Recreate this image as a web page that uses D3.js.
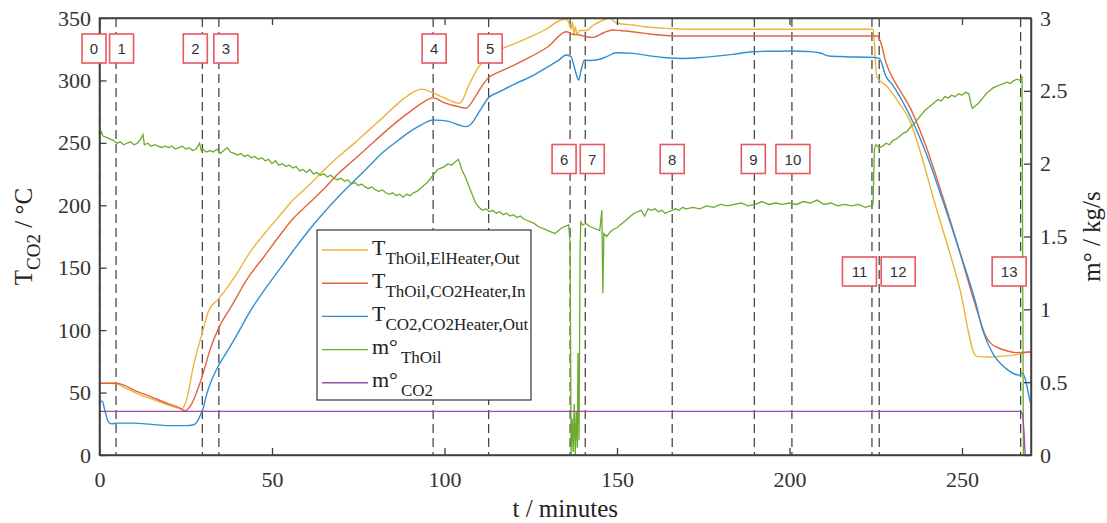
<!DOCTYPE html>
<html lang="en">
<head>
    <meta charset="UTF-8">
    <title>Heater start-up and shut-down: temperatures and mass flows</title>
    <script src="https://d3js.org/d3.v7.min.js"></script>
    <style>
        body { margin: 0; background: #fff; }
        .serif { font-family: "Liberation Serif", "Times New Roman", Times, "DejaVu Serif", serif; }
        .sans { font-family: "Liberation Sans", Arial, "DejaVu Sans", sans-serif; }
    </style>
</head>
<body>
    <svg width="1107" height="523"></svg>
    <script>
        // ---- data ----
        // [t (min), T (degC)]
        const tOilElHeaterOut = [
            [0, 57.5], [3, 57.5], [5, 57], [8, 53], [12, 48], [16, 44], [20, 40], [23.9, 37], [25.2, 44], [27.2, 71],
            [30, 100], [31.7, 116], [34.5, 125], [37, 134], [40, 146], [43.3, 161], [48, 178], [52, 191], [56, 204],
            [60.7, 216], [65, 228], [69.3, 239], [74, 250], [78, 260], [82, 270], [86.7, 282], [90, 289], [93.5, 293],
            [96.7, 290], [100, 286], [104.4, 281.7], [107.3, 297.7], [110.2, 312], [113.1, 319], [116.9, 325.7],
            [120, 329], [125, 335], [130, 342], [133.4, 348], [135.3, 349], [136.2, 345], [136.7, 341], [137.1, 347],
            [137.5, 336], [137.9, 343], [138.4, 337], [139.2, 340], [141.1, 340], [143, 344], [145, 347], [147.8, 350],
            [149.8, 346], [152, 345], [154.5, 344.4], [158, 343], [164.3, 341.7], [170, 341], [200, 341], [224.2, 341],
            [225.3, 303], [226.5, 299], [228, 296], [231, 285], [234.8, 268], [242.4, 199], [249.2, 135], [254.2, 79],
            [258, 78.5], [261, 79], [265, 80], [269.8, 83]
        ];
        const tOilCO2HeaterIn = [
            [0, 57.5], [4.8, 57.5], [6, 57], [10, 52], [15, 46.5], [20, 41], [23, 38], [24.8, 35.5], [26.5, 40],
            [28.8, 55], [30.1, 66], [32, 84], [34.6, 102], [38, 118], [43.3, 143], [48, 160], [52, 175], [56, 189],
            [60.7, 201.6], [65, 213], [69.3, 225.6], [74, 237], [78, 247], [82, 257], [86.7, 268], [90, 275], [93, 281],
            [96.7, 286], [100, 282], [104, 279], [106.3, 277.7], [107.5, 281], [109.2, 288.3], [112.6, 301.7], [116, 307],
            [120, 312], [125, 319], [130, 327], [135.3, 339], [137, 337], [139.2, 336.4], [141.1, 335], [143, 334.5],
            [146, 338], [148.8, 340.4], [151, 340], [154.5, 339], [160, 337], [164.3, 336], [170, 335.6], [225.5, 335.6],
            [226.5, 330], [228, 314], [229.9, 302], [232, 292], [234.8, 279], [239.6, 247], [244.4, 207], [249.2, 164],
            [254, 119], [256.9, 95], [258.5, 89], [260.8, 85.5], [263, 83.5], [265.6, 82], [269.8, 82.5]
        ];
        const tCO2HeaterOut = [
            [0, 42], [0.8, 43], [1.6, 35], [2.5, 27], [3.5, 25], [5, 25.5], [10, 25.5], [15, 24.5], [20, 23.5],
            [25, 23.5], [27, 24], [28.3, 26.5], [29.1, 31], [30, 37], [31, 48], [32.5, 60], [34.4, 71], [37, 83],
            [40, 97], [43.3, 113.5], [47, 129], [52, 148], [56, 163], [60.7, 180], [65, 194], [69.3, 207], [74, 220],
            [78, 231], [82, 242], [86.7, 252.3], [90, 259], [93, 264], [96.7, 268.3], [99, 268], [101.5, 267],
            [104, 264.5], [106.3, 263], [108, 266], [109.2, 271], [111, 279], [112.6, 285.7], [116, 291], [120.8, 297.7],
            [125, 303], [130, 311], [133, 316], [135.3, 320.4], [136.7, 319], [137.5, 312], [138.2, 305], [138.9, 300.3],
            [139.5, 307], [140.6, 316.4], [142, 316], [145, 317], [147, 319], [149.8, 322.2], [154.5, 321.7],
            [160, 319.5], [164.3, 318.2], [169, 317.6], [175, 318.5], [183.5, 320.9], [189.3, 323], [195, 323.4],
            [200.9, 323.6], [205, 323.2], [208.7, 322.2], [211.5, 319.6], [216, 319], [224.1, 318.5], [226, 317.7],
            [228, 303], [229.9, 296.3], [234.8, 272.3], [239.6, 241.6], [244.4, 204], [249.2, 164], [254, 121.5],
            [256, 100], [258.9, 81.4], [262.7, 69.4], [266.6, 64], [267.6, 65.4], [268.2, 62], [269.5, 46], [269.8, 42]
        ];
        // [t (min), mass flow (kg/s)]
        const mThOil = [
            [0, 2.20], [0.5, 2.22], [1, 2.19], [2, 2.18], [3, 2.17], [4, 2.16], [5, 2.14], [6, 2.15], [7, 2.13], [8, 2.14],
            [9, 2.15], [10, 2.13], [11, 2.14], [12, 2.17], [12.6, 2.20], [13, 2.13], [14, 2.14], [15, 2.12], [16, 2.13],
            [17, 2.12], [18, 2.11], [19, 2.12], [20, 2.11], [21, 2.12], [22, 2.10], [23, 2.11], [24, 2.12], [25, 2.10],
            [26, 2.11], [27, 2.09], [28, 2.10], [29, 2.14], [29.5, 2.09], [30, 2.10], [31, 2.08], [32, 2.09], [33, 2.08],
            [34, 2.10], [35, 2.07], [36, 2.09], [37, 2.11], [38, 2.08], [39, 2.07], [40, 2.06], [41, 2.07], [42, 2.05],
            [43, 2.06], [44, 2.04], [45, 2.05], [46, 2.03], [47, 2.04], [48, 2.02], [49, 2.03], [50, 2.00], [51, 2.02],
            [52, 1.99], [53, 2.00], [54, 1.98], [55, 1.99], [56, 1.97], [57, 1.98], [58, 1.95], [59, 1.96], [60, 1.94],
            [61, 1.96], [62, 1.93], [63, 1.94], [64, 1.92], [65, 1.93], [66, 1.91], [67, 1.92], [68, 1.90], [69, 1.89],
            [70, 1.90], [71, 1.88], [72, 1.89], [73, 1.86], [74, 1.87], [75, 1.85], [76, 1.86], [77, 1.84], [78, 1.83],
            [79, 1.84], [80, 1.82], [81, 1.81], [82, 1.82], [83, 1.80], [84, 1.79], [85, 1.80], [86, 1.78], [87, 1.79],
            [88, 1.77], [89, 1.79], [90, 1.78], [91, 1.80], [92, 1.81], [93, 1.83], [94, 1.85], [95, 1.87], [96, 1.90],
            [97, 1.93], [98, 1.96], [99, 1.97], [100, 1.98], [101, 2.00], [102, 1.99], [103, 2.01], [104, 2.03],
            [104.5, 2.00], [105, 1.96], [106, 1.91], [107, 1.85], [108, 1.79], [109, 1.73], [110, 1.70], [111, 1.68],
            [112, 1.69], [113, 1.67], [114, 1.68], [115, 1.66], [116, 1.67], [117, 1.65], [118, 1.66], [119, 1.64],
            [120, 1.65], [121, 1.63], [122, 1.64], [123, 1.62], [124, 1.61], [125, 1.60], [126, 1.59], [127, 1.57],
            [128, 1.56], [129, 1.55], [130, 1.54], [131, 1.53], [132, 1.52], [133, 1.54], [134, 1.56], [135, 1.57],
            [136, 1.58], [136.4, 1.45], [136.7, 0.0], [137, 0.25], [137.3, 0.02], [137.6, 0.35], [137.9, 0.0],
            [138.2, 0.30], [138.5, 0.05], [138.7, 0.70], [139.0, 0.10], [139.3, 1.40], [139.5, 1.60], [140, 1.58],
            [141, 1.59], [142, 1.57], [143, 1.56], [144, 1.55], [145, 1.54], [145.6, 1.68], [145.9, 1.11], [146.2, 1.52],
            [147, 1.50], [148, 1.53], [149, 1.55], [150, 1.56], [151, 1.58], [152, 1.60], [153, 1.62], [154, 1.64],
            [155, 1.66], [156, 1.67], [157, 1.68], [158, 1.64], [159, 1.69], [160, 1.68], [161, 1.69], [162, 1.67],
            [163, 1.68], [164, 1.66], [165, 1.67], [166, 1.68], [167, 1.69], [168, 1.68], [169, 1.70], [170, 1.69],
            [172, 1.70], [174, 1.69], [176, 1.71], [178, 1.70], [180, 1.72], [182, 1.71], [184, 1.72], [186, 1.73],
            [188, 1.71], [190, 1.72], [192, 1.74], [194, 1.72], [196, 1.73], [198, 1.72], [200, 1.73], [202, 1.72],
            [204, 1.74], [206, 1.73], [208, 1.75], [210, 1.72], [212, 1.73], [214, 1.71], [216, 1.72], [218, 1.71],
            [220, 1.72], [222, 1.70], [223.5, 1.71], [224.2, 1.72], [224.6, 2.10], [225, 2.13], [226, 2.11],
            [227, 2.12], [228, 2.14], [229, 2.13], [230, 2.16], [231, 2.17], [232, 2.19], [233, 2.21], [234, 2.22],
            [235, 2.25], [236, 2.27], [237, 2.30], [238, 2.33], [239, 2.36], [240, 2.38], [241, 2.40], [242, 2.42],
            [243, 2.44], [244, 2.43], [245, 2.46], [246, 2.45], [247, 2.47], [248, 2.46], [249, 2.48], [250, 2.47],
            [251, 2.49], [252, 2.48], [252.5, 2.42], [253, 2.38], [254, 2.40], [255, 2.42], [256, 2.45], [257, 2.48],
            [258, 2.50], [259, 2.52], [260, 2.53], [261, 2.54], [262, 2.55], [263, 2.56], [264, 2.55], [265, 2.57],
            [266, 2.58], [267, 2.57], [267.4, 2.60], [267.8, 0.0]
        ];
        const mCO2 = [[0, 0.30], [267, 0.30], [267.6, 0.28], [268, 0.15], [268.3, 0.0]];

        // operating points (dashed lines) and their numbers
        const eventTimes = [0, 4.8, 29.8, 34.6, 96.7, 112.8, 136.4, 140.8, 166, 189.8, 200.7, 223.9, 226, 267];
        const eventLabels = ["0", "1", "2", "3", "4", "5", "6", "7", "8", "9", "10", "11", "12", "13"];

        const xTicks = [0, 50, 100, 150, 200, 250];
        const yLeftTicks = [0, 50, 100, 150, 200, 250, 300, 350];
        const yRightTicks = [0, 0.5, 1, 1.5, 2, 2.5, 3];

        const seriesNames = [
            ["T", "ThOil,ElHeater,Out"],
            ["T", "ThOil,CO2Heater,In"],
            ["T", "CO2,CO2Heater,Out"],
            ["m°", "ThOil"],
            ["m°", "CO2"]
        ];

        // ---- layout ----
        const svg = d3.select("svg");
        const W = 1107, H = 523;
        const plotL = 99.5, plotR = 1031, plotT = 18, plotB = 455;
        const axisColor = "#404040";
        const colors = ["#edb43a", "#e2643c", "#2f8fd4", "#6daa2e", "#9a4fb0"];

        svg.append("rect").attr("width", W).attr("height", H).attr("fill", "#fff");

        const x = d3.scaleLinear().domain([0, 270]).range([plotL, plotR]);
        const yL = d3.scaleLinear().domain([0, 350]).range([plotB, plotT]);
        const yR = d3.scaleLinear().domain([0, 3]).range([plotB, plotT]);

        svg.append("clipPath").attr("id", "plot")
            .append("rect").attr("x", plotL).attr("y", plotT - 1)
            .attr("width", plotR - plotL).attr("height", plotB - plotT + 1);

        // dashed event lines
        svg.append("g").selectAll("line")
            .data(eventTimes)
            .join("line")
            .attr("x1", d => x(d)).attr("x2", d => x(d))
            .attr("y1", plotT).attr("y2", plotB)
            .attr("stroke", "#3a3a3a")
            .attr("stroke-width", 1.2)
            .attr("stroke-dasharray", "9,5");

        // curves
        const lineT = d3.line().x(d => x(d[0])).y(d => yL(d[1])).curve(d3.curveMonotoneX);
        const lineM = d3.line().x(d => x(d[0])).y(d => yR(d[1]));
        const curves = svg.append("g").attr("clip-path", "url(#plot)").attr("fill", "none");
        curves.append("path").datum(tOilElHeaterOut).attr("d", lineT).attr("stroke", colors[0]).attr("stroke-width", 1.4);
        curves.append("path").datum(tOilCO2HeaterIn).attr("d", lineT).attr("stroke", colors[1]).attr("stroke-width", 1.4);
        curves.append("path").datum(tCO2HeaterOut).attr("d", lineT).attr("stroke", colors[2]).attr("stroke-width", 1.4);
        curves.append("path").datum(mThOil).attr("d", lineM).attr("stroke", colors[3]).attr("stroke-width", 1.3);
        curves.append("path").datum(mCO2).attr("d", lineM).attr("stroke", colors[4]).attr("stroke-width", 1.3);

        // axes (ticks point inward, like the original)
        function styleAxis(g, size) {
            g.attr("font-family", null).attr("font-size", null);
            g.select(".domain").attr("stroke", axisColor).attr("stroke-width", 1.5);
            g.selectAll(".tick line").attr("stroke", axisColor).attr("stroke-width", 1.3);
            g.selectAll("text").attr("class", "serif").style("font-size", size + "px").attr("fill", "#333");
        }
        svg.append("g").attr("transform", `translate(0,${plotB})`)
            .call(d3.axisBottom(x).tickValues(xTicks).tickSize(-7).tickSizeOuter(0).tickPadding(16))
            .call(g => styleAxis(g, 22));
        svg.append("g").attr("transform", `translate(0,${plotT})`)
            .call(d3.axisTop(x).tickValues(xTicks).tickSize(-7).tickSizeOuter(0).tickFormat(""))
            .call(g => styleAxis(g, 22));
        svg.append("g").attr("transform", `translate(${plotL},0)`)
            .call(d3.axisLeft(yL).tickValues(yLeftTicks).tickSize(-7).tickSizeOuter(0).tickPadding(8.5))
            .call(g => styleAxis(g, 22));
        svg.append("g").attr("transform", `translate(${plotR},0)`)
            .call(d3.axisRight(yR).tickValues(yRightTicks).tickSize(-7).tickSizeOuter(0).tickPadding(9)
                .tickFormat(d => String(d)))
            .call(g => styleAxis(g, 22));

        // legend
        const lg = svg.append("g");
        lg.append("rect").attr("x", 317).attr("y", 230).attr("width", 214).attr("height", 170)
            .attr("fill", "#fff").attr("stroke", "#333").attr("stroke-width", 1.2);
        seriesNames.forEach((nm, i) => {
            const ly = 250 + i * 33.2;
            lg.append("line").attr("x1", 322).attr("x2", 368).attr("y1", ly).attr("y2", ly)
                .attr("stroke", colors[i]).attr("stroke-width", 1.4);
            const t = lg.append("text").attr("class", "serif").attr("x", 372).attr("y", ly + 4.5)
                .style("font-size", "22px").attr("fill", "#222");
            t.append("tspan").text(nm[0]);
            t.append("tspan").attr("dy", 9).attr("dx", nm[0] === "T" ? 0 : 3).style("font-size", "17px").text(nm[1]);
        });

        // axis titles
        const yt = svg.append("text").attr("class", "serif")
            .attr("transform", `translate(32,${(plotT + plotB) / 2}) rotate(-90)`)
            .attr("text-anchor", "middle")
            .style("font-size", "25px").attr("fill", "#222");
        yt.append("tspan").text("T");
        yt.append("tspan").attr("dy", 8).style("font-size", "19px").text("CO2");
        yt.append("tspan").attr("dy", -8).text(" / °C");

        svg.append("text").attr("class", "serif")
            .attr("transform", `translate(1100,${(plotT + plotB) / 2}) rotate(-90)`)
            .attr("text-anchor", "middle")
            .style("font-size", "25px").attr("fill", "#222")
            .text("m° / kg/s");

        svg.append("text").attr("class", "serif")
            .attr("x", (plotL + plotR) / 2).attr("y", 517)
            .attr("text-anchor", "middle")
            .style("font-size", "25px").attr("fill", "#222")
            .text("t / minutes");

        // plot frame
        svg.append("rect").attr("x", plotL).attr("y", plotT)
            .attr("width", plotR - plotL).attr("height", plotB - plotT)
            .attr("fill", "none").attr("stroke", axisColor).attr("stroke-width", 1.5);

        // operating point number boxes, drawn last so box 0 covers the left axis
        // (row and horizontal nudge are layout only)
        const boxRows = [34, 34, 34, 34, 34, 34, 144.5, 144.5, 144.5, 144.5, 144.5, 257, 257, 257];
        const boxNudge = [-5.5, 5.5, -7, 7, 1, 1.5, -6, 7, 0, -1, 1, -12.5, 19, -11.5];
        const boxes = svg.append("g").selectAll("g")
            .data(eventLabels)
            .join("g")
            .attr("transform", (d, i) => `translate(${x(eventTimes[i]) + boxNudge[i]},${boxRows[i]})`);
        boxes.append("rect")
            .attr("x", d => d.length > 1 ? -17 : -12)
            .attr("width", d => d.length > 1 ? 34 : 24)
            .attr("height", 29)
            .attr("fill", "#fff")
            .attr("stroke", "#e9575f")
            .attr("stroke-width", 1.6);
        boxes.append("text").attr("class", "sans")
            .attr("y", 20)
            .attr("text-anchor", "middle")
            .style("font-size", "15px")
            .attr("fill", "#333")
            .text(d => d);
    </script>
</body>
</html>
